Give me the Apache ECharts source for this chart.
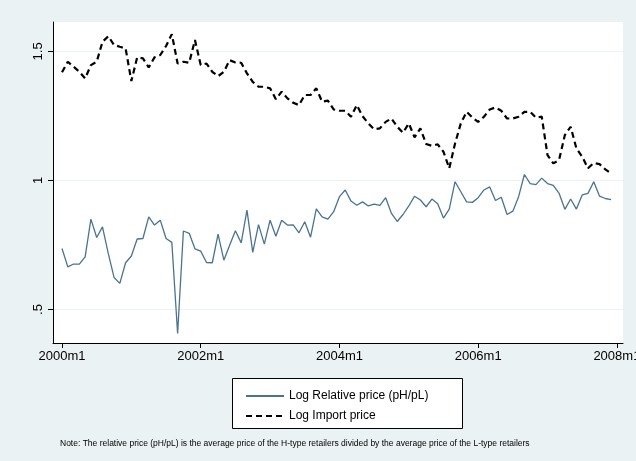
<!DOCTYPE html>
<html>
<head>
<meta charset="utf-8">
<script src="https://cdn.jsdelivr.net/npm/echarts@6/dist/echarts.min.js"></script>
<style>
  html, body { margin: 0; padding: 0; background: #eaf2f3; }
  #main { width: 636px; height: 461px; }
</style>
</head>
<body>
<div id="main"></div>
<script>
// months since 2000m1 (0 .. 95)
const tickMonths = [0, 24, 48, 72, 96];
const tickLabels = ['2000m1', '2002m1', '2004m1', '2006m1', '2008m1'];

// Log Relative price (pH/pL)
const relPrice = [
    0.736, 0.665, 0.676, 0.676, 0.704, 0.850, 0.779, 0.820, 0.717, 0.624,
    0.601, 0.681, 0.707, 0.773, 0.775, 0.859, 0.827, 0.846, 0.775, 0.760,
    0.407, 0.804, 0.795, 0.735, 0.726, 0.682, 0.681, 0.792, 0.691, 0.749,
    0.805, 0.758, 0.885, 0.721, 0.829, 0.753, 0.846, 0.784, 0.846, 0.827,
    0.828, 0.797, 0.840, 0.780, 0.890, 0.859, 0.850, 0.879, 0.937,
    0.963, 0.920, 0.904, 0.917, 0.901, 0.908, 0.903, 0.933, 0.872, 0.841,
    0.868, 0.901, 0.939, 0.924, 0.898, 0.928, 0.910, 0.854, 0.889, 0.995,
    0.956, 0.917, 0.915, 0.933, 0.963, 0.975, 0.922, 0.935, 0.868, 0.881,
    0.937, 1.023, 0.988, 0.984, 1.009, 0.988, 0.981, 0.950, 0.888, 0.928,
    0.889, 0.944, 0.950, 0.995, 0.939, 0.930, 0.926
];

// Log Import price
const importPrice = [
    1.419, 1.460, 1.441, 1.421, 1.395, 1.447, 1.460, 1.537, 1.559, 1.525,
    1.518, 1.512, 1.385, 1.477, 1.473, 1.438, 1.477, 1.486, 1.521, 1.567,
    1.453, 1.460, 1.456, 1.544, 1.447, 1.453, 1.421, 1.404, 1.421, 1.466,
    1.457, 1.456, 1.415, 1.382, 1.363, 1.363, 1.357, 1.315, 1.344, 1.318,
    1.301, 1.292, 1.331, 1.331, 1.357, 1.305, 1.309, 1.275, 1.270,
    1.270, 1.247, 1.292, 1.249, 1.221, 1.198, 1.202, 1.227, 1.240, 1.208,
    1.185, 1.221, 1.167, 1.202, 1.141, 1.134, 1.140, 1.111, 1.047, 1.143,
    1.221, 1.266, 1.244, 1.227, 1.247, 1.275, 1.283, 1.270, 1.240, 1.240,
    1.247, 1.266, 1.266, 1.243, 1.247, 1.098, 1.066, 1.079, 1.176, 1.208,
    1.124, 1.092, 1.047, 1.068, 1.063, 1.043, 1.027
];

function toPairs(arr) {
    return arr.map(function (v, i) { return [i, v]; });
}

const myChart = echarts.init(document.getElementById('main'));
const option = {
    backgroundColor: '#eaf2f3',
    animation: false,
    textStyle: { fontFamily: 'Liberation Sans, Arial, sans-serif', color: '#000' },
    grid: {
        left: 53, right: 13, top: 22, bottom: 118,
        containLabel: false, outerBoundsMode: 'none',
        show: true, backgroundColor: '#fff', borderWidth: 0
    },
    xAxis: {
        type: 'value',
        min: -1.56, max: 97.06,
        axisLine: { show: true, onZero: false, lineStyle: { color: '#000', width: 1 } },
        axisTick: { show: true, length: 5, lineStyle: { color: '#000' }, customValues: tickMonths },
        axisLabel: {
            fontSize: 13, color: '#000', margin: 7,
            customValues: tickMonths,
            formatter: function (v) { return tickLabels[tickMonths.indexOf(Math.round(v))]; }
        },
        splitLine: { show: false }
    },
    yAxis: {
        type: 'value',
        min: 0.37, max: 1.614,
        axisLine: { show: true, onZero: false, lineStyle: { color: '#000', width: 1 } },
        axisTick: { show: true, length: 5, lineStyle: { color: '#000' }, customValues: [0.5, 1, 1.5] },
        axisLabel: {
            fontSize: 13, color: '#000', rotate: 90, margin: 8,
            customValues: [0.5, 1, 1.5],
            formatter: function (v) { return v === 0.5 ? '.5' : String(v); }
        },
        splitLine: { show: true, lineStyle: { color: '#eaf2f3', width: 1 } },
        splitNumber: 10
    },
    legend: {
        orient: 'vertical',
        left: 240, top: 385,
        itemWidth: 38, itemHeight: 10, itemGap: 8,
        itemStyle: { opacity: 0 },
        textStyle: { fontSize: 12, color: '#000' },
        data: ['Log Relative price (pH/pL)', 'Log Import price']
    },
    graphic: [
        {
            type: 'rect', left: 232, top: 378, z: -1,
            shape: { width: 230, height: 50 },
            style: { fill: '#fff', stroke: '#000', lineWidth: 1 }
        },
        {
            type: 'text', left: 60, top: 439,
            style: {
                text: 'Note: The relative price (pH/pL) is the average price of the H-type retailers divided by the average price of the L-type retailers',
                fontSize: 8.5, fill: '#000', fontFamily: 'Liberation Sans, Arial, sans-serif'
            }
        }
    ],
    series: [
        {
            name: 'Log Relative price (pH/pL)',
            type: 'line',
            symbol: 'none',
            lineStyle: { color: '#4a7390', width: 1.3 },
            itemStyle: { color: '#4a7390' },
            data: toPairs(relPrice)
        },
        {
            name: 'Log Import price',
            type: 'line',
            symbol: 'none',
            lineStyle: { color: '#000', width: 2.2, type: [6, 4] },
            itemStyle: { color: '#000' },
            data: toPairs(importPrice)
        }
    ]
};
myChart.setOption(option);
</script>
</body>
</html>
